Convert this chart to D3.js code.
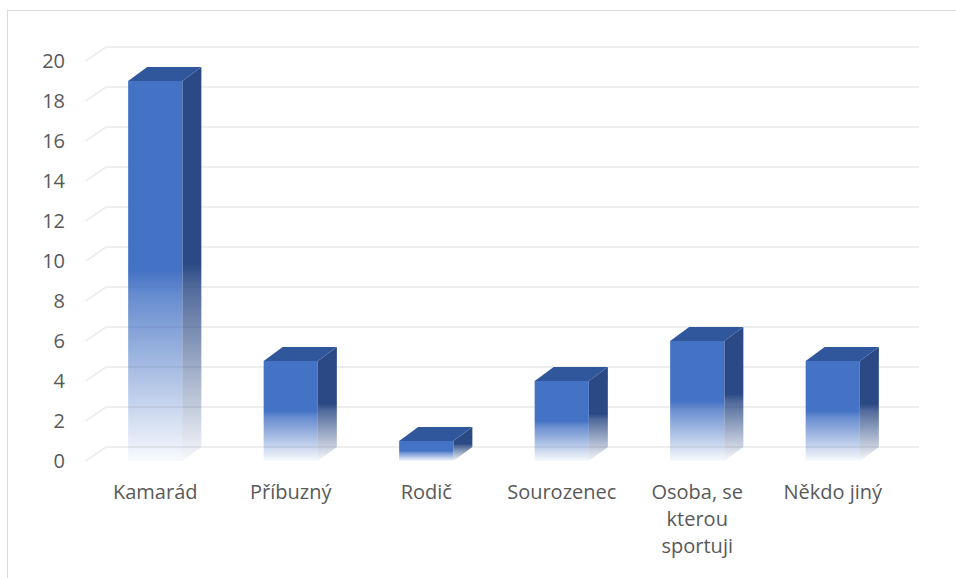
<!DOCTYPE html>
<html>
<head>
<meta charset="utf-8">
<script src="https://cdn.jsdelivr.net/npm/d3@7"></script>
<style>
  html, body { margin: 0; padding: 0; background: #ffffff; }
  svg { display: block; }
  text { font-family: "Open Sans", "Noto Sans", sans-serif; fill: #595959; }
</style>
</head>
<body>
<svg id="chart" width="956" height="578"></svg>
<script>
// Data
const categories = ["Kamarád", "Příbuzný", "Rodič", "Sourozenec", "Osoba, se kterou sportuji", "Někdo jiný"];
const values = [19, 5, 1, 4, 6, 5];
const yTicks = [0, 2, 4, 6, 8, 10, 12, 14, 16, 18, 20];

const svg = d3.select("#chart");

// Chart frame
svg.append("rect")
  .attr("x", 7.5).attr("y", 10.5)
  .attr("width", 980).attr("height", 620)
  .attr("fill", "#ffffff")
  .attr("stroke", "#d9d9d9").attr("stroke-width", 1);

// 3D depth offset of the back wall
const DX = 19, DY = 14;

const x = d3.scaleBand()
  .domain(categories)
  .range([87.5, 900.5])
  .paddingInner(0.6)
  .paddingOuter(0.3);

const y = d3.scaleLinear().domain([0, 20]).range([461, 61]);

// Gradients: solid in the upper half, fading out towards the floor
const defs = svg.append("defs");
function fade(id, color) {
  const g = defs.append("linearGradient").attr("id", id)
    .attr("x1", 0).attr("y1", 0).attr("x2", 0).attr("y2", 1);
  g.append("stop").attr("offset", 0).attr("stop-color", color).attr("stop-opacity", 1);
  g.append("stop").attr("offset", 0.5).attr("stop-color", color).attr("stop-opacity", 1);
  g.append("stop").attr("offset", 0.56).attr("stop-color", color).attr("stop-opacity", 0.82);
  g.append("stop").attr("offset", 1).attr("stop-color", color).attr("stop-opacity", 0.04);
}
fade("gFront", "#4472c4");
fade("gSide", "#2b4a85");

// Gridlines: short diagonal along the side wall, then across the back wall
const x0 = 86, xEnd = 919;
svg.append("g").selectAll("path")
  .data(yTicks)
  .join("path")
  .attr("d", v => `M${x0},${y(v)} L${x0 + DX + 1},${y(v) - DY} L${xEnd},${y(v) - DY}`)
  .attr("fill", "none")
  .attr("stroke", "#e9e9e9")
  .attr("stroke-width", 1.5);

// Y tick labels
svg.append("g").selectAll("text")
  .data(yTicks)
  .join("text")
  .attr("x", 65)
  .attr("y", v => y(v))
  .attr("dy", "0.35em")
  .attr("text-anchor", "end")
  .attr("font-size", 20)
  .text(d => d);

// Bars
const bars = svg.append("g").selectAll("g")
  .data(categories.map((c, i) => ({ c, v: values[i] })))
  .join("g");

const bw = x.bandwidth();

// side face
bars.append("path")
  .attr("d", d => {
    const xr = x(d.c) + bw, yt = y(d.v), yb = y(0);
    return `M${xr},${yt} L${xr + DX},${yt - DY} L${xr + DX},${yb - DY} L${xr},${yb} Z`;
  })
  .attr("fill", "url(#gSide)");

// top face
bars.append("path")
  .attr("d", d => {
    const xl = x(d.c), xr = xl + bw, yt = y(d.v);
    return `M${xl},${yt} L${xl + DX},${yt - DY} L${xr + DX},${yt - DY} L${xr},${yt} Z`;
  })
  .attr("fill", "#30569c");

// front face
bars.append("rect")
  .attr("x", d => x(d.c))
  .attr("y", d => y(d.v))
  .attr("width", bw)
  .attr("height", d => y(0) - y(d.v))
  .attr("fill", "url(#gFront)");

// Category labels, wrapped to fit
const labels = svg.append("g").selectAll("text")
  .data(categories)
  .join("text")
  .attr("text-anchor", "middle")
  .attr("font-size", 20)
  .attr("x", d => x(d) + bw / 2)
  .attr("y", 499);

const maxW = 124, lineH = 27;
labels.each(function(d) {
  const t = d3.select(this);
  const words = d.split(" ");
  let line = [], lines = [];
  const probe = t.append("tspan");
  words.forEach(w => {
    const test = line.concat(w).join(" ");
    probe.text(test);
    if (probe.node().getComputedTextLength() > maxW && line.length) {
      lines.push(line.join(" "));
      line = [w];
    } else {
      line.push(w);
    }
  });
  lines.push(line.join(" "));
  probe.remove();
  lines.forEach((l, i) => {
    t.append("tspan").attr("x", x(d) + bw / 2).attr("y", 499 + i * lineH).text(l);
  });
});
</script>
</body>
</html>
